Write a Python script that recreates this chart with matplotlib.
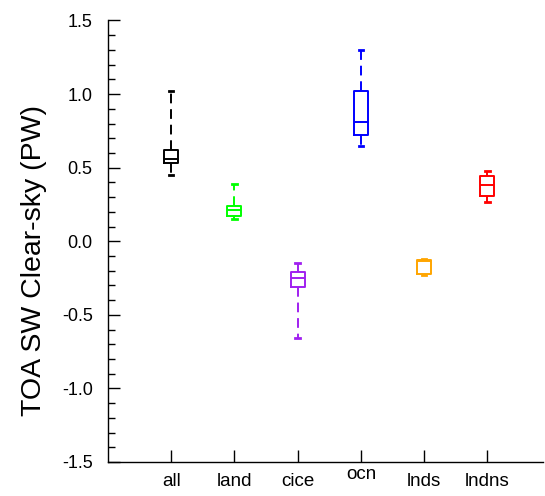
import matplotlib.pyplot as plt
from matplotlib.ticker import MultipleLocator
from matplotlib.transforms import ScaledTranslation

plt.rcParams['font.family'] = ['Liberation Sans', 'DejaVu Sans']

# box statistics
labels = ['all', 'land', 'cice', 'ocn', 'lnds', 'lndns']
colors = ['black', '#00ff00', '#a020f0', '#0000ff', '#ffa500', '#ff0000']
whis_hi = [1.02, 0.39, -0.15, 1.30, -0.12, 0.48]
q3 = [0.62, 0.24, -0.21, 1.02, -0.13, 0.44]
median = [0.56, 0.215, -0.25, 0.81, -0.135, 0.38]
q1 = [0.53, 0.17, -0.31, 0.72, -0.225, 0.31]
whis_lo = [0.45, 0.15, -0.66, 0.65, -0.23, 0.27]

fig = plt.figure(figsize=(5.45, 4.96), dpi=100)
ax = fig.add_axes([108/545, 1 - 462/496, 435/545, 441.5/496])

for i in range(len(labels)):
    stats = [{'label': labels[i], 'whislo': whis_lo[i], 'q1': q1[i],
              'med': median[i], 'q3': q3[i], 'whishi': whis_hi[i]}]
    c = colors[i]
    ax.bxp(stats, positions=[i + 1], widths=0.22, capwidths=0.07,
           showfliers=False,
           boxprops=dict(color=c, linewidth=1.4),
           medianprops=dict(color=c, linewidth=1.4),
           whiskerprops=dict(color=c, linewidth=1.4, linestyle=(0, (5, 3))),
           capprops=dict(color=c, linewidth=2.0))

ax.set_xlim(0, 6.88)
ax.set_ylim(-1.5, 1.5)
ax.set_xticks(range(1, len(labels) + 1))
ax.set_xticklabels(labels)
ax.yaxis.set_major_locator(MultipleLocator(0.5))
ax.yaxis.set_minor_locator(MultipleLocator(0.1))
ax.set_yticks([-1.5, -1.0, -0.5, 0.0, 0.5, 1.0, 1.5])
ax.set_yticklabels(['-1.5', '-1.0', '-0.5', '0.0', '0.5', '1.0', '1.5'])

ax.spines['top'].set_visible(False)
ax.spines['right'].set_visible(False)
ax.spines['left'].set_linewidth(1.0)
ax.spines['bottom'].set_linewidth(1.0)

ax.tick_params(axis='y', which='major', direction='in', length=8.5, width=1.0, labelsize=13, pad=11)
ax.tick_params(axis='y', which='minor', direction='in', length=5, width=1.0)
ax.tick_params(axis='x', which='major', direction='in', length=9, width=1.0, labelsize=13.5, pad=8)

# ocn label sits higher in the reference (no ascenders)
for lab in ax.get_xticklabels():
    if lab.get_text() == 'ocn':
        lab.set_transform(lab.get_transform() + ScaledTranslation(0, 5/72, fig.dpi_scale_trans))

ax.set_ylabel('TOA SW Clear-sky (PW)', fontsize=20.5, va='center')
ax.yaxis.set_label_coords(-0.17, 0.456)

plt.savefig('out.png', dpi=100)
